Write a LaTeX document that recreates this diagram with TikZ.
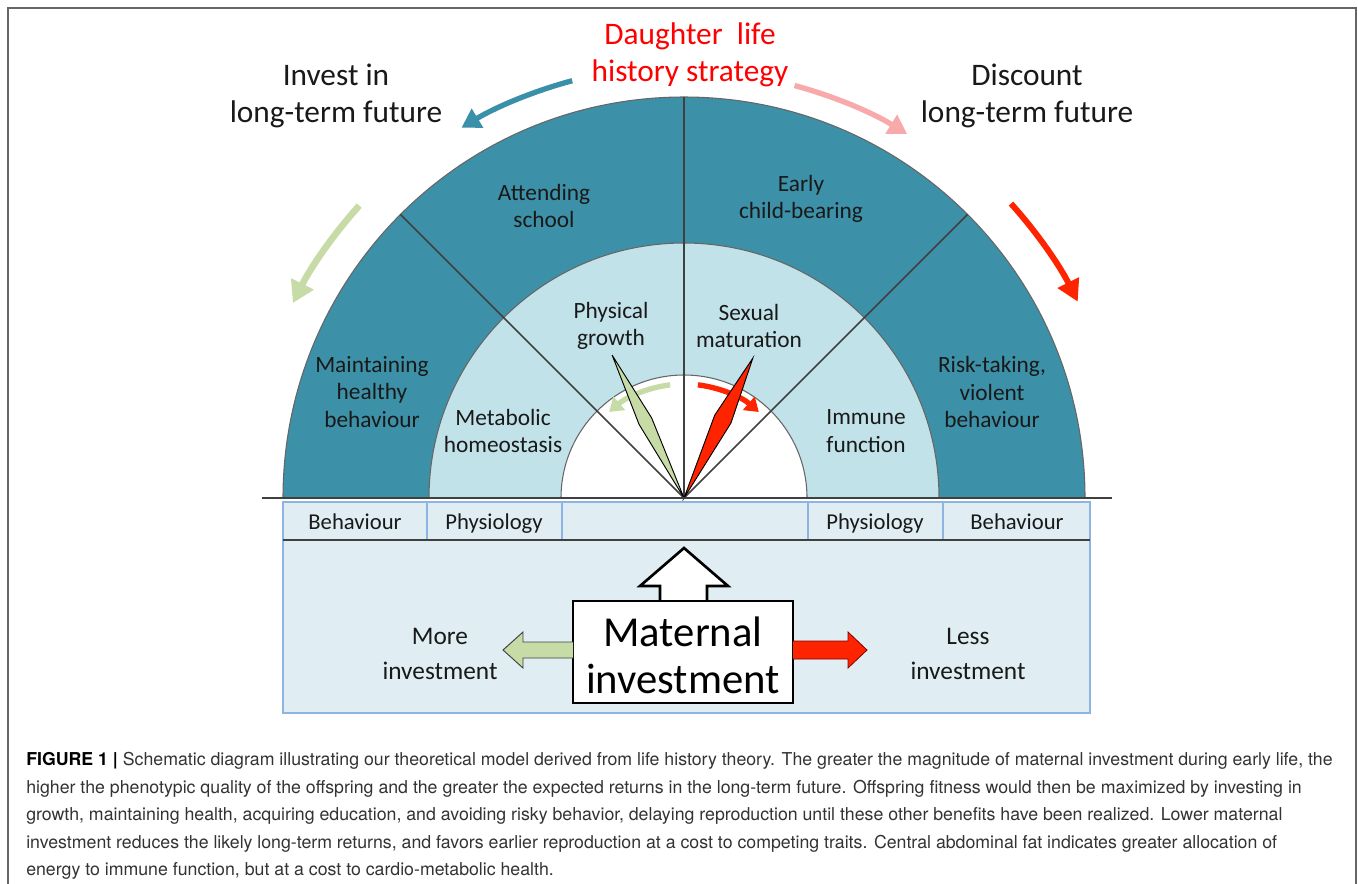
\documentclass[tikz,border=0pt]{standalone}
\usepackage{fontspec}
\setmainfont{Carlito}
\newfontfamily\capfont{TeX Gyre Heros}
\usetikzlibrary{arrows.meta}
\definecolor{darkring}{HTML}{3C91A8}
\definecolor{lightring}{HTML}{C2E2EA}
\definecolor{boxfill}{HTML}{E0EEF4}
\definecolor{boxline}{HTML}{8EB4E3}
\definecolor{lineg}{HTML}{404040}
\definecolor{redc}{HTML}{FF2400}
\definecolor{greenc}{HTML}{C6DBA6}
\definecolor{pinkc}{HTML}{F8A9A9}
\definecolor{tealc}{HTML}{3A90A8}
\definecolor{framec}{HTML}{666666}
\definecolor{captc}{HTML}{333333}
\tikzset{
  fanlbl/.style={font=\fontsize{17.5}{20.6}\selectfont, align=center, inner sep=0pt, text=black!90},
  rowlbl/.style={font=\fontsize{17}{20}\selectfont, inner sep=0pt, text=black!90, anchor=base},
  toplbl/.style={font=\fontsize{23.5}{27.7}\selectfont, align=center, inner sep=0pt, text=black!90},
  invlbl/.style={font=\fontsize{19}{26}\selectfont, align=center, inner sep=0pt, text=black!90},
  caplbl/.style={font=\capfont\fontsize{13.3}{16}\selectfont, anchor=west, inner sep=0pt, text=captc},
  rowbox/.style={draw=boxline, fill=boxfill, line width=0.9pt},
  arcline/.style={draw=lineg!80, line width=0.8pt},
  divline/.style={draw=lineg, line width=1.2pt},
  needle/.style={draw=black, line width=0.7pt, line join=miter},
}
\begin{document}
\begin{tikzpicture}[x=0.75pt, y=-0.75pt]
\useasboundingbox (0,0) rectangle (1358,883);
\fill[white] (0,0) rectangle (1358,883);
% frame
\draw[framec, line width=1.2pt] (8,890) -- (8,8) -- (1356,8) -- (1356,890);

% fan
\coordinate (C) at (684,498);
\begin{scope}[shift={(684,498)}, yscale=-1]
  \fill[darkring] (0,0) -- (0:401) arc[start angle=0, end angle=180, radius=401] -- cycle;
  \fill[lightring] (0,0) -- (0:255) arc[start angle=0, end angle=180, radius=255] -- cycle;
  \fill[white] (0,0) -- (0:123) arc[start angle=0, end angle=180, radius=123] -- cycle;
  \draw[arcline] (0:401) arc[start angle=0, end angle=180, radius=401];
  \draw[arcline] (0:255) arc[start angle=0, end angle=180, radius=255];
  \draw[arcline] (0:123) arc[start angle=0, end angle=180, radius=123];
  \draw[divline] (0,0) -- (45:401);
  \draw[divline] (0,0) -- (90:401);
  \draw[divline] (0,0) -- (135:401);
  % outer curved arrows
  \draw[tealc, line width=4pt, -{Triangle[length=14pt, width=16pt]}]
    (105:432) arc[start angle=105, end angle=121, radius=432];
  \draw[pinkc, line width=4pt, -{Triangle[length=14pt, width=16pt]}]
    (75:427) arc[start angle=75, end angle=58.5, radius=427];
  \draw[greenc, line width=5pt, -{Triangle[length=16pt, width=18pt]}]
    (138:437) arc[start angle=138, end angle=153.5, radius=437];
  \draw[redc, line width=4.5pt, -{Triangle[length=16pt, width=17pt]}]
    (42:440) arc[start angle=42, end angle=26.5, radius=440];
  % inner curved arrows
  \draw[greenc, line width=4pt, -{Triangle[length=10pt, width=13pt]}]
    (97:114) arc[start angle=97, end angle=131, radius=114];
  \draw[redc, line width=4pt, -{Triangle[length=10pt, width=13pt]}]
    (83:114) arc[start angle=83, end angle=49, radius=114];
  % needles
  \filldraw[needle, fill=greenc]
    (0,0) -- (112.0:86.3) -- (116.7:160) -- (121.4:86.3) -- cycle;
  \filldraw[needle, fill=redc]
    (0,0) -- (57.95:88.5) -- (63.8:156) -- (69.65:88.5) -- cycle;
\end{scope}
% baseline
\draw[lineg, line width=1.3pt] (262,498) -- (1112,498);

% row boxes
\draw[rowbox] (283,502) rectangle (427,540);
\draw[rowbox] (427,502) rectangle (562,540);
\draw[rowbox] (562,502) rectangle (808,540);
\draw[rowbox] (808,502) rectangle (943,540);
\draw[rowbox] (943,502) rectangle (1090,540);
% big box
\draw[rowbox] (283,540) rectangle (1090,713);
\draw[lineg, line width=1.2pt] (283,540) -- (1090,540);

\node[rowlbl] (b1) at (355,529) {Behaviour};
\node[rowlbl] (p1) at (494,529) {Physiology};
\node[rowlbl] (p2) at (875,529) {Physiology};
\node[rowlbl] (b2) at (1017,529) {Behaviour};

% hollow up arrow
\filldraw[fill=white, draw=black, line width=2pt, line join=miter]
  (660,602) -- (660,586) -- (640,586) -- (684,548) -- (728,586) -- (707,586) -- (707,602);
% maternal box
\draw[fill=white, draw=black, line width=2.2pt] (573,601) rectangle (793,703);
\node[font=\fontsize{32}{35}\selectfont, align=center, inner sep=0pt] (mat) at (683,655) {Maternal\\investment};

% side arrows
\filldraw[fill=greenc, draw=lineg, line width=0.7pt, line join=miter]
  (573,642) -- (523,642) -- (523,632) -- (503,650) -- (523,668) -- (523,658) -- (573,658);
\filldraw[fill=redc, draw=red!50!black, line width=0.6pt, line join=miter]
  (793,641) -- (848,641) -- (848,632) -- (867,650) -- (848,668) -- (848,659) -- (793,659);

\node[invlbl] (more) at (440,654) {More\\investment};
\node[invlbl] (less) at (968,654) {Less\\investment};

% fan labels
\node[fanlbl] (att) at (544,206) {Attending\\school};
\node[fanlbl] (early) at (801,199) {Early\\child-bearing};
\node[fanlbl] (maint) at (372,392) {Maintaining\\healthy\\behaviour};
\node[fanlbl] (risk) at (992,392) {Risk-taking,\\violent\\behaviour};
\node[fanlbl] (meta) at (503,431) {Metabolic\\homeostasis};
\node[fanlbl] (imm) at (866,431) {Immune\\function};
\node[fanlbl] (phys) at (611,326) {Physical\\growth};
\node[fanlbl] (sex) at (749,326) {Sexual\\maturation};

% top labels
\node[toplbl] (inv) at (336,96) {Invest in\\long-term future};
\node[toplbl, text=red] (dau) at (690,55) {Daughter\ \ life\\history strategy};
\node[toplbl] (disc) at (1027,96) {Discount\\long-term future};

% caption
\node[caplbl] (cap1) at (26,761) {{\bfseries\color{black}FIGURE 1 |} Schematic diagram illustrating our theoretical model derived from life history theory. The greater the magnitude of maternal investment during early life, the};
\node[caplbl] (cap2) at (26,788.5) {higher the phenotypic quality of the offspring and the greater the expected returns in the long-term future. Offspring fitness would then be maximized by investing in};
\node[caplbl] (cap3) at (26,816) {growth, maintaining health, acquiring education, and avoiding risky behavior, delaying reproduction until these other benefits have been realized. Lower maternal};
\node[caplbl] (cap4) at (26,843.5) {investment reduces the likely long-term returns, and favors earlier reproduction at a cost to competing traits. Central abdominal fat indicates greater allocation of};
\node[caplbl] (cap5) at (26,871) {energy to immune function, but at a cost to cardio-metabolic health.};
\end{tikzpicture}
\end{document}
